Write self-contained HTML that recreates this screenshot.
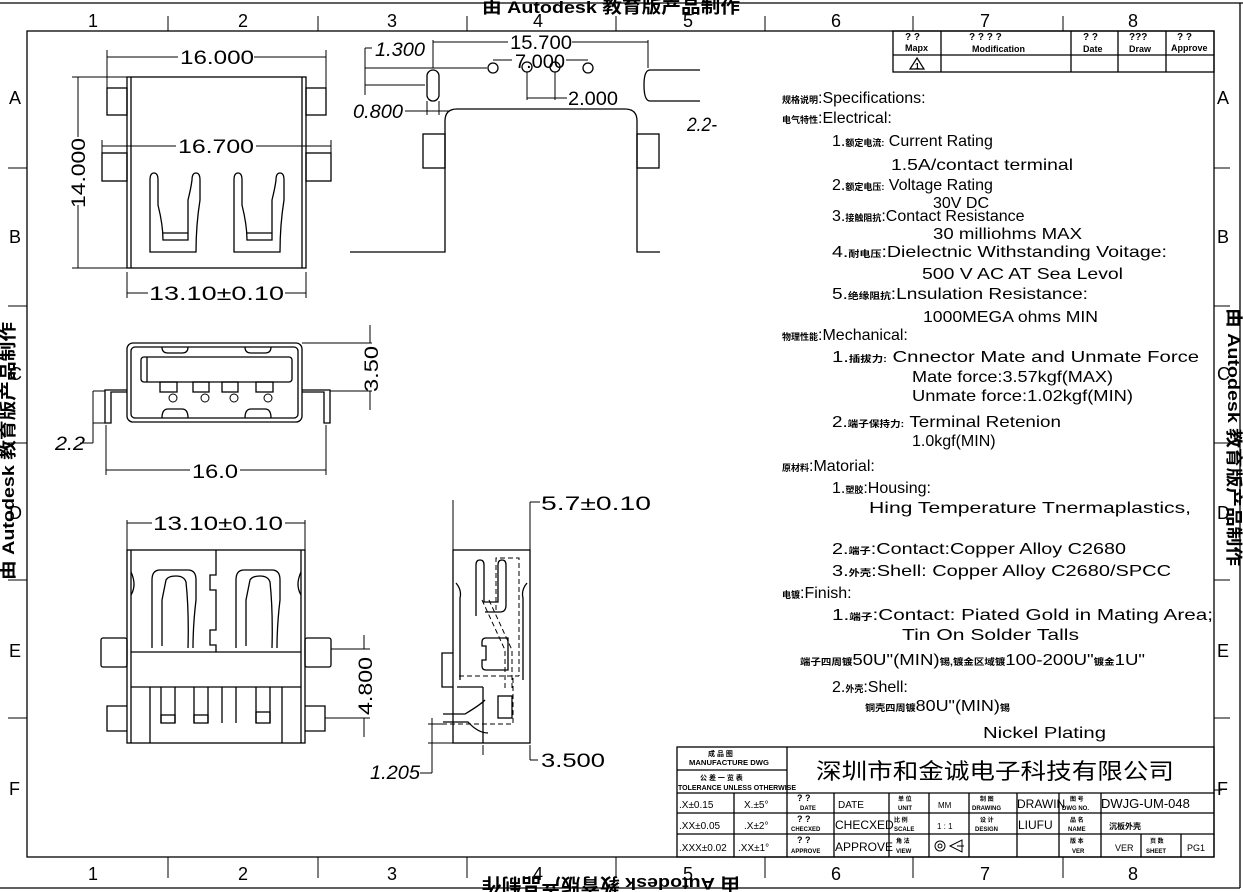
<!DOCTYPE html>
<html><head><meta charset="utf-8"><style>
html,body{margin:0;padding:0;background:#fff;}
svg{display:block;}
text{font-family:"Liberation Sans","Noto Sans CJK SC",sans-serif;fill:#000;}
.s{font-size:16px;}
.d{font-size:19px;}
.c{font-size:9px;font-weight:bold;}
.w{font-size:17px;font-weight:bold;}
.lab{font-family:"Liberation Serif",serif;font-size:18px;}
</style></head><body>
<svg width="1243" height="892" viewBox="0 0 1243 892" xmlns="http://www.w3.org/2000/svg">
<g fill="none" stroke="#000" stroke-width="1.3">
<!-- outer and inner frame -->
<line x1="0" y1="3" x2="1243" y2="3"/>
<line x1="1240" y1="3" x2="1240" y2="888"/>
<line x1="0" y1="888" x2="1240" y2="888"/>
<rect x="27" y="31" width="1187" height="826"/>
<!-- column ticks -->
<g stroke-width="1">
<line x1="168" y1="16" x2="168" y2="31"/><line x1="318" y1="16" x2="318" y2="31"/><line x1="467" y1="16" x2="467" y2="31"/><line x1="616" y1="16" x2="616" y2="31"/><line x1="765" y1="16" x2="765" y2="31"/><line x1="913" y1="16" x2="913" y2="31"/><line x1="1063" y1="16" x2="1063" y2="31"/>
<line x1="168" y1="857" x2="168" y2="878"/><line x1="318" y1="857" x2="318" y2="878"/><line x1="467" y1="857" x2="467" y2="878"/><line x1="616" y1="857" x2="616" y2="878"/><line x1="765" y1="857" x2="765" y2="878"/><line x1="913" y1="857" x2="913" y2="878"/><line x1="1063" y1="857" x2="1063" y2="878"/>
<line x1="8" y1="168" x2="27" y2="168"/><line x1="8" y1="306" x2="27" y2="306"/><line x1="8" y1="443" x2="27" y2="443"/><line x1="8" y1="580" x2="27" y2="580"/><line x1="8" y1="718" x2="27" y2="718"/>
<line x1="1214" y1="168" x2="1230" y2="168"/><line x1="1214" y1="306" x2="1230" y2="306"/><line x1="1214" y1="443" x2="1230" y2="443"/><line x1="1214" y1="580" x2="1230" y2="580"/><line x1="1214" y1="718" x2="1230" y2="718"/>
</g>

<!-- VIEW 1 top -->
<rect x="127" y="77" width="179" height="191"/>
<line x1="131" y1="77" x2="131" y2="268"/><line x1="302" y1="77" x2="302" y2="268"/>
<rect x="107" y="88" width="20" height="27"/><rect x="306" y="88" width="20" height="27"/>
<rect x="102" y="153" width="25" height="28"/><rect x="306" y="153" width="25" height="28"/>
<path d="M150 252 V180 Q150 173 154 173 Q158 173 158 180 V205 Q163 225 163 240 H188 V200 Q191 188 192 180 Q192 173 196 173 Q200 173 200 180 V200 Q196 225 196 252 Z"/>
<line x1="163" y1="233" x2="188" y2="233"/>
<path d="M234 252 V180 Q234 173 238 173 Q242 173 242 180 V205 Q247 225 247 240 H272 V200 Q275 188 276 180 Q276 173 280 173 Q284 173 284 180 V200 Q280 225 280 252 Z"/>
<line x1="247" y1="233" x2="272" y2="233"/>
<g stroke-width="1">
<line x1="107" y1="57" x2="178" y2="57"/><line x1="254" y1="57" x2="326" y2="57"/>
<line x1="107" y1="50" x2="107" y2="88"/><line x1="326" y1="50" x2="326" y2="88"/>
<line x1="102" y1="146" x2="176" y2="146"/><line x1="256" y1="146" x2="331" y2="146"/>
<line x1="102" y1="140" x2="102" y2="153"/><line x1="331" y1="140" x2="331" y2="153"/>
<line x1="78" y1="77" x2="78" y2="137"/><line x1="78" y1="205" x2="78" y2="268"/>
<line x1="72" y1="77" x2="127" y2="77"/><line x1="72" y1="268" x2="127" y2="268"/>
<line x1="127" y1="272" x2="127" y2="298"/><line x1="306" y1="272" x2="306" y2="298"/>
<line x1="127" y1="293" x2="148" y2="293"/><line x1="285" y1="293" x2="306" y2="293"/>
</g>
<text class="d" x="180" y="64" textLength="74" lengthAdjust="spacingAndGlyphs" stroke="none">16.000</text>
<text class="d" x="178" y="153" textLength="76" lengthAdjust="spacingAndGlyphs" stroke="none">16.700</text>
<text class="d" transform="translate(85,208) rotate(-90)" textLength="70" lengthAdjust="spacingAndGlyphs" stroke="none">14.000</text>
<text class="d" x="149" y="300" textLength="135" lengthAdjust="spacingAndGlyphs" stroke="none">13.10±0.10</text>

<!-- VIEW 2 side top right -->
<path d="M350 252 H445 V121 Q445 109 457 109 H625 Q637 109 637 121 V252 H660"/>
<rect x="423" y="134" width="22" height="34"/><rect x="637" y="134" width="22" height="34"/>
<rect x="427" y="70" width="12" height="31" rx="6"/>
<path d="M700 70 H650 Q644 70 644 85 Q644 101 650 101 H700"/>
<circle cx="493" cy="68" r="5"/><circle cx="527" cy="67" r="5"/><circle cx="555" cy="67" r="5"/><circle cx="588" cy="68" r="5"/>
<g stroke-width="1">
<line x1="433" y1="42" x2="508" y2="42"/><line x1="572" y1="42" x2="648" y2="42"/>
<line x1="433" y1="40" x2="433" y2="68"/><line x1="648" y1="40" x2="648" y2="68"/>
<line x1="365" y1="48" x2="365" y2="95"/><line x1="365" y1="48" x2="372" y2="48"/>
<line x1="365" y1="68" x2="487" y2="68"/><line x1="365" y1="85" x2="425" y2="85"/>
<line x1="405" y1="111" x2="450" y2="111"/>
<line x1="427" y1="101" x2="427" y2="115"/><line x1="439" y1="101" x2="439" y2="115"/>
<line x1="493" y1="60" x2="512" y2="60"/><line x1="566" y1="60" x2="588" y2="60"/>
<line x1="527" y1="72" x2="527" y2="100"/><line x1="555" y1="72" x2="555" y2="100"/>
<line x1="527" y1="98" x2="567" y2="98"/>
</g>
<text class="d" x="510" y="49" textLength="62" lengthAdjust="spacingAndGlyphs" stroke="none">15.700</text>
<text class="d" x="375" y="56" textLength="50" lengthAdjust="spacingAndGlyphs" font-style="italic" stroke="none">1.300</text>
<text class="d" x="353" y="118" textLength="50" lengthAdjust="spacingAndGlyphs" font-style="italic" stroke="none">0.800</text>
<text class="d" x="515" y="68" textLength="50" lengthAdjust="spacingAndGlyphs" stroke="none">7.000</text>
<text class="d" x="568" y="105" textLength="50" lengthAdjust="spacingAndGlyphs" stroke="none">2.000</text>
<text class="d" x="687" y="131" textLength="30" lengthAdjust="spacingAndGlyphs" font-style="italic" stroke="none">2.2-</text>

<!-- VIEW 3 front -->
<rect x="127" y="343" width="175" height="79" rx="6"/>
<rect x="131" y="347" width="167" height="71" rx="4"/>
<rect x="141" y="357" width="151" height="25" rx="3"/>
<line x1="147" y1="357" x2="147" y2="382"/>
<rect x="160" y="382" width="17" height="10"/><rect x="193" y="382" width="16" height="10"/><rect x="222" y="382" width="16" height="10"/><rect x="256" y="382" width="17" height="10"/>
<path d="M162 347 Q162 353 168 353 H182 Q188 353 188 347"/><path d="M245 347 Q245 353 251 353 H265 Q271 353 271 347"/>
<path d="M162 418 Q162 409 168 409 H182 Q188 409 188 418"/><path d="M245 418 Q245 409 251 409 H265 Q271 409 271 418"/>
<path d="M127 390 H105 V423 H111 V392 H127"/><path d="M302 390 H330 V423 H324 V392 H302"/>
<g stroke-width="1"><circle cx="173" cy="398" r="4"/><circle cx="205" cy="398" r="4"/><circle cx="234" cy="398" r="4"/><circle cx="268" cy="398" r="4"/></g>
<g stroke-width="1">
<line x1="302" y1="343" x2="372" y2="343"/><line x1="330" y1="391" x2="372" y2="391"/>
<line x1="370" y1="325" x2="370" y2="343"/><line x1="370" y1="391" x2="370" y2="410"/>
<line x1="93" y1="391" x2="105" y2="391"/><line x1="93" y1="423" x2="105" y2="423"/>
<line x1="93" y1="391" x2="93" y2="443"/><line x1="80" y1="443" x2="93" y2="443"/>
<line x1="106" y1="425" x2="106" y2="475"/><line x1="326" y1="425" x2="326" y2="475"/>
<line x1="106" y1="470" x2="190" y2="470"/><line x1="240" y1="470" x2="326" y2="470"/>
</g>
<text class="d" transform="translate(378,392) rotate(-90)" textLength="46" lengthAdjust="spacingAndGlyphs" stroke="none">3.50</text>
<text class="d" x="55" y="450" textLength="30" lengthAdjust="spacingAndGlyphs" font-style="italic" stroke="none">2.2</text>
<text class="d" x="192" y="478" textLength="46" lengthAdjust="spacingAndGlyphs" stroke="none">16.0</text>

<!-- VIEW 4 bottom -->
<rect x="127" y="550" width="178" height="193"/>
<line x1="131" y1="550" x2="131" y2="743"/><line x1="301" y1="550" x2="301" y2="743"/>
<line x1="131" y1="652" x2="301" y2="652"/><line x1="131" y1="687" x2="301" y2="687"/>
<line x1="150" y1="687" x2="150" y2="743"/><line x1="282" y1="687" x2="282" y2="743"/>
<line x1="161" y1="687" x2="161" y2="723"/><line x1="175" y1="687" x2="175" y2="723"/><rect x="161" y="715" width="14" height="8"/>
<line x1="194" y1="687" x2="194" y2="723"/><line x1="208" y1="687" x2="208" y2="723"/><rect x="194" y="715" width="14" height="8"/>
<line x1="222" y1="687" x2="222" y2="723"/><line x1="236" y1="687" x2="236" y2="723"/>
<line x1="256" y1="687" x2="256" y2="723"/><line x1="270" y1="687" x2="270" y2="723"/><rect x="256" y="712" width="14" height="11"/>
<path d="M152 648 V580 Q152 570 160 570 H188 Q196 570 196 580 V600 Q193 625 193 648"/>
<path d="M162 646 V600 Q164 590 166 580 Q168 576 176 576 Q184 576 186 582 Q189 610 188 648"/>
<path d="M236 648 V580 Q236 570 244 570 H272 Q280 570 280 580 V600 Q277 625 277 648"/>
<path d="M246 646 V600 Q248 590 250 580 Q252 576 260 576 Q268 576 270 582 Q273 610 272 648"/>
<path d="M216 550 V575 H210 V590 H216 V630 H210 V645 H216 V652"/>
<path d="M131 572 Q137 585 131 595"/><path d="M301 572 Q295 585 301 595"/>
<rect x="101" y="638" width="26" height="29" rx="2"/><rect x="305" y="638" width="26" height="29" rx="2"/>
<path d="M127 706 H107 V731 H127"/><path d="M305 706 H325 V731 H305"/>
<g stroke-width="1">
<line x1="127" y1="520" x2="127" y2="550"/><line x1="305" y1="520" x2="305" y2="550"/>
<line x1="127" y1="523" x2="152" y2="523"/><line x1="285" y1="523" x2="305" y2="523"/>
<line x1="331" y1="649" x2="370" y2="649"/><line x1="325" y1="718" x2="370" y2="718"/>
<line x1="364" y1="635" x2="364" y2="649"/><line x1="364" y1="718" x2="364" y2="737"/>
</g>
<text class="d" x="153" y="530" textLength="130" lengthAdjust="spacingAndGlyphs" stroke="none">13.10±0.10</text>
<text class="d" transform="translate(372,715) rotate(-90)" textLength="58" lengthAdjust="spacingAndGlyphs" stroke="none">4.800</text>

<!-- VIEW 5 side -->
<rect x="453" y="550" width="77" height="193"/>
<path d="M453 653 H442 V687 H453"/>
<line x1="457" y1="687" x2="483" y2="687"/><line x1="483" y1="687" x2="483" y2="743"/>
<path d="M476 616 V565 Q476 560 480 560 Q484 560 484 565 V602 H498 V565 Q498 560 502 560 Q506 560 506 565 V605 Q506 612 500 612 H485"/>
<path d="M456 583 Q462 590 460 598 V680"/><path d="M527 583 Q521 590 523 598 V680"/>
<path d="M486 638 H508 V670 H486 Q482 670 482 666 V660 H486 V646 H482 V642 Q482 638 486 638"/>
<rect x="498" y="696" width="14" height="22"/>
<path d="M443 714 H465 Q480 705 485 700"/><path d="M443 722 H468 Q478 733 488 733"/>
<g stroke-width="1" stroke-dasharray="5,3">
<path d="M496 610 V558 H519 V676"/><path d="M459 676 H519"/><path d="M442 724 H513 V676"/>
<path d="M482 600 L505 650 V690"/><path d="M489 600 L512 650 V690"/>
</g>
<g stroke-width="1">
<line x1="453" y1="500" x2="453" y2="550"/><line x1="530" y1="502" x2="530" y2="550"/><line x1="530" y1="502" x2="540" y2="502"/>
<line x1="530" y1="745" x2="530" y2="760"/><line x1="530" y1="760" x2="538" y2="760"/>
<line x1="483" y1="745" x2="483" y2="755"/>
<line x1="432" y1="718" x2="432" y2="773"/><line x1="420" y1="773" x2="432" y2="773"/>
<line x1="428" y1="724" x2="442" y2="724"/><line x1="428" y1="743" x2="453" y2="743"/>
</g>
<text class="d" x="541" y="510" textLength="110" lengthAdjust="spacingAndGlyphs" stroke="none">5.7±0.10</text>
<text class="d" x="541" y="767" textLength="64" lengthAdjust="spacingAndGlyphs" stroke="none">3.500</text>
<text class="d" x="370" y="779" textLength="50" lengthAdjust="spacingAndGlyphs" font-style="italic" stroke="none">1.205</text>

<!-- revision box -->
<rect x="893" y="31" width="321" height="41"/>
<line x1="893" y1="55" x2="1214" y2="55"/>
<line x1="941" y1="31" x2="941" y2="72"/><line x1="1071" y1="31" x2="1071" y2="72"/><line x1="1118" y1="31" x2="1118" y2="72"/><line x1="1166" y1="31" x2="1166" y2="72"/>
<path d="M910 69 L917 58 L924 69 Z" stroke-width="1.2"/>

<!-- title block -->
<rect x="677" y="747" width="537" height="110"/>
<line x1="787" y1="747" x2="787" y2="793"/>
<line x1="677" y1="770" x2="787" y2="770"/>
<line x1="677" y1="793" x2="1214" y2="793"/>
<line x1="677" y1="813" x2="1214" y2="813"/>
<line x1="677" y1="834" x2="1214" y2="834"/>
<line x1="734" y1="793" x2="734" y2="857"/><line x1="787" y1="793" x2="787" y2="857"/><line x1="834" y1="793" x2="834" y2="857"/><line x1="889" y1="793" x2="889" y2="857"/><line x1="929" y1="793" x2="929" y2="857"/><line x1="969" y1="793" x2="969" y2="857"/><line x1="1017" y1="793" x2="1017" y2="857"/><line x1="1059" y1="793" x2="1059" y2="857"/><line x1="1101" y1="793" x2="1101" y2="857"/>
<line x1="1141" y1="834" x2="1141" y2="857"/><line x1="1181" y1="834" x2="1181" y2="857"/>
<circle cx="940" cy="846" r="5" stroke-width="1"/><circle cx="940" cy="846" r="2" stroke-width="1"/>
<path d="M950 846 L962 840 V852 Z M957 846 H964" stroke-width="1"/>
<line x1="1214" y1="790" x2="1222" y2="790" stroke-width="1"/>
</g>

<!-- labels -->
<g class="lab">
<text x="88" y="27">1</text><text x="238" y="27">2</text><text x="387" y="27">3</text><text x="533" y="27">4</text><text x="683" y="27">5</text><text x="831" y="27">6</text><text x="980" y="27">7</text><text x="1128" y="27">8</text>
<text x="88" y="880">1</text><text x="238" y="880">2</text><text x="387" y="880">3</text><text x="533" y="880">4</text><text x="683" y="880">5</text><text x="831" y="880">6</text><text x="980" y="880">7</text><text x="1128" y="880">8</text>
<text x="9" y="104">A</text><text x="9" y="243">B</text><text x="9" y="380">C</text><text x="9" y="519">D</text><text x="9" y="657">E</text><text x="9" y="795">F</text>
<text x="1217" y="104">A</text><text x="1217" y="243">B</text><text x="1217" y="380">C</text><text x="1217" y="519">D</text><text x="1217" y="657">E</text><text x="1217" y="795">F</text>
</g>

<!-- watermarks -->
<text class="w" x="482" y="13" textLength="258" lengthAdjust="spacingAndGlyphs">由 Autodesk 教育版产品制作</text>
<text class="w" transform="translate(740,878) rotate(180)" textLength="258" lengthAdjust="spacingAndGlyphs">由 Autodesk 教育版产品制作</text>
<text class="w" transform="translate(14,580) rotate(-90)" textLength="258" lengthAdjust="spacingAndGlyphs">由 Autodesk 教育版产品制作</text>
<text class="w" transform="translate(1228,308) rotate(90)" textLength="258" lengthAdjust="spacingAndGlyphs">由 Autodesk 教育版产品制作</text>

<!-- revision box text -->
<g font-family="Liberation Serif,serif" font-size="10" font-weight="bold">
<text x="905" y="40">? ?</text><text x="905" y="51" font-size="9">Mapx</text>
<text x="969" y="40">? ? ? ?</text><text x="972" y="52" font-size="9">Modification</text>
<text x="1083" y="40">? ?</text><text x="1083" y="52" font-size="9">Date</text>
<text x="1129" y="40">???</text><text x="1129" y="52" font-size="9">Draw</text>
<text x="1177" y="40">? ?</text><text x="1171" y="51" font-size="9">Approve</text>
</g>
<text x="915" y="69" font-size="8" font-weight="bold">1</text>

<!-- specs -->
<g class="s">
<text x="782" y="103"><tspan class="c">规格说明</tspan>:Specifications:</text>
<text x="782" y="123"><tspan class="c">电气特性</tspan>:Electrical:</text>
<text x="832" y="146">1.<tspan class="c">额定电流:</tspan> Current  Rating</text>
<text x="891" y="170" textLength="182" lengthAdjust="spacingAndGlyphs">1.5A/contact  terminal</text>
<text x="832" y="190">2.<tspan class="c">额定电压:</tspan> Voltage  Rating</text>
<text x="933" y="208">30V  DC</text>
<text x="832" y="221">3.<tspan class="c">接触阻抗</tspan>:Contact  Resistance</text>
<text x="933" y="239" textLength="149" lengthAdjust="spacingAndGlyphs">30  milliohms  MAX</text>
<text x="832" y="257" textLength="335" lengthAdjust="spacingAndGlyphs">4.<tspan class="c">耐电压</tspan>:Dielectnic  Withstanding  Voitage:</text>
<text x="922" y="279" textLength="201" lengthAdjust="spacingAndGlyphs">500  V  AC  AT  Sea  Levol</text>
<text x="832" y="299" textLength="256" lengthAdjust="spacingAndGlyphs">5.<tspan class="c">绝缘阻抗</tspan>:Lnsulation  Resistance:</text>
<text x="923" y="322" textLength="175" lengthAdjust="spacingAndGlyphs">1000MEGA  ohms  MIN</text>
<text x="782" y="340"><tspan class="c">物理性能</tspan>:Mechanical:</text>
<text x="832" y="362" textLength="367" lengthAdjust="spacingAndGlyphs">1.<tspan class="c">插拔力:</tspan> Cnnector  Mate  and  Unmate  Force</text>
<text x="912" y="382" textLength="201" lengthAdjust="spacingAndGlyphs">Mate  force:3.57kgf(MAX)</text>
<text x="912" y="401" textLength="221" lengthAdjust="spacingAndGlyphs">Unmate  force:1.02kgf(MIN)</text>
<text x="832" y="427" textLength="229" lengthAdjust="spacingAndGlyphs">2.<tspan class="c">端子保持力:</tspan> Terminal  Retenion</text>
<text x="912" y="446">1.0kgf(MIN)</text>
<text x="782" y="471"><tspan class="c">原材料</tspan>:Matorial:</text>
<text x="832" y="493">1.<tspan class="c">塑胶</tspan>:Housing:</text>
<text x="869" y="513" textLength="322" lengthAdjust="spacingAndGlyphs">Hing  Temperature    Tnermaplastics,</text>
<text x="832" y="554" textLength="294" lengthAdjust="spacingAndGlyphs">2.<tspan class="c">端子</tspan>:Contact:Copper  Alloy  C2680</text>
<text x="832" y="576" textLength="339" lengthAdjust="spacingAndGlyphs">3.<tspan class="c">外壳</tspan>:Shell:  Copper  Alloy  C2680/SPCC</text>
<text x="782" y="598"><tspan class="c">电镀</tspan>:Finish:</text>
<text x="832" y="620" textLength="381" lengthAdjust="spacingAndGlyphs">1.<tspan class="c">端子</tspan>:Contact:  Piated  Gold  in  Mating  Area;</text>
<text x="902" y="640" textLength="177" lengthAdjust="spacingAndGlyphs">Tin  On  Solder  Talls</text>
<text x="800" y="665" textLength="345" lengthAdjust="spacingAndGlyphs"><tspan class="c">端子四周镀</tspan>50U"(MIN)<tspan class="c">锡,镀金区域镀</tspan>100-200U"<tspan class="c">镀金</tspan>1U"</text>
<text x="832" y="692">2.<tspan class="c">外壳</tspan>:Shell:</text>
<text x="865" y="711" textLength="145" lengthAdjust="spacingAndGlyphs"><tspan class="c">铜壳四周镀</tspan>80U"(MIN)<tspan class="c">锡</tspan></text>
<text x="983" y="738" textLength="123" lengthAdjust="spacingAndGlyphs">Nickel  Plating</text>
</g>

<!-- title block text -->
<text x="816" y="779" font-size="22" textLength="358" lengthAdjust="spacingAndGlyphs" font-family="Liberation Sans,Noto Sans CJK SC,sans-serif">深圳市和金诚电子科技有限公司</text>
<g font-size="7" font-weight="bold">
<text x="708" y="756">成 品 图</text>
<text x="689" y="765" textLength="80" lengthAdjust="spacingAndGlyphs">MANUFACTURE DWG</text>
<text x="700" y="780">公 差 一 览 表</text>
<text x="678" y="790" textLength="118" lengthAdjust="spacingAndGlyphs">TOLERANCE UNLESS OTHERWISE</text>
</g>
<g font-size="10">
<text x="679" y="808">.X±0.15</text><text x="744" y="808">X.±5°</text>
<text x="679" y="829">.XX±0.05</text><text x="744" y="829">.X±2°</text>
<text x="679" y="851">.XXX±0.02</text><text x="738" y="851">.XX±1°</text>
<text x="838" y="808">DATE</text><text x="835" y="829" font-size="12">CHECXED</text><text x="835" y="851" font-size="12">APPROVE</text>
<text x="938" y="808" font-size="8">MM</text><text x="937" y="829" font-size="8">1 : 1</text>
<text x="1017" y="808" font-size="12">DRAWIN</text><text x="1018" y="829" font-size="12">LIUFU</text>
<text x="1101" y="808" font-size="13">DWJG-UM-048</text>
<text x="1109" y="829" font-size="8" font-weight="bold">沉板外壳</text>
<text x="1115" y="851" font-size="9">VER</text><text x="1187" y="851" font-size="9">PG1</text>
</g>
<g font-size="6" font-weight="bold">
<text x="797" y="801" font-size="9">? ?</text><text x="800" y="810">DATE</text>
<text x="797" y="822" font-size="9">? ?</text><text x="791" y="831">CHECXED</text>
<text x="797" y="843" font-size="9">? ?</text><text x="791" y="853">APPROVE</text>
<text x="898" y="801">单 位</text><text x="898" y="810">UNIT</text>
<text x="894" y="822">比 例</text><text x="894" y="831">SCALE</text>
<text x="896" y="843">角 法</text><text x="896" y="853">VIEW</text>
<text x="980" y="801">制 图</text><text x="972" y="810">DRAWING</text>
<text x="980" y="822">设 计</text><text x="975" y="831">DESIGN</text>
<text x="1070" y="801">图 号</text><text x="1062" y="810">DWG NO.</text>
<text x="1070" y="822">品 名</text><text x="1068" y="831">NAME</text>
<text x="1070" y="843">版 本</text><text x="1072" y="853">VER</text>
<text x="1150" y="843">页 数</text><text x="1146" y="853">SHEET</text>
</g>
</svg>
</body></html>
